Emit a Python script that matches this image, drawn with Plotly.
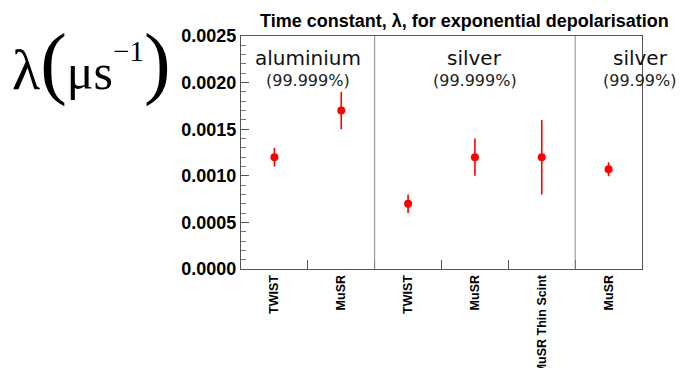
import plotly.graph_objects as go

# ---- data ----
categories = ["TWIST", "MuSR", "TWIST", "MuSR", "MuSR Thin Scint", "MuSR"]
lam_values = [0.00120, 0.00170, 0.00070, 0.00120, 0.00120, 0.00107]
lam_errors = [0.00010, 0.00020, 0.00010, 0.00020, 0.00040, 0.000075]
group_names = ["aluminium", "silver", "silver"]
group_purity = ["(99.999%)", "(99.999%)", "(99.99%)"]
group_centers = [0.5, 3.0, 5.47]
group_boundaries = [1.5, 4.5]
minor_x_ticks = [0.5, 1.5, 2.5, 3.5, 4.5]
y_ticks = [0.0, 0.0005, 0.0010, 0.0015, 0.0020, 0.0025]
y_label = ("<span style='font-size:58px'>λ</span>"
           "<span style='font-size:80px'>(</span>μs"
           "<span style='font-size:29px;baseline-shift:95%'>−1</span>"
           "<span style='font-size:80px'>)</span>")

W, H = 680, 368
L, R, T, B = 241, 38, 36, 99
PW, PH = W - L - R, H - T - B


def px(xp):
    return (xp - L) / PW


def py(yp):
    return (H - B - yp) / PH


xpos = list(range(len(categories)))

fig = go.Figure()
fig.add_trace(go.Scatter(
    x=xpos, y=lam_values, mode="markers",
    marker=dict(color="#ff0000", size=8),
    error_y=dict(type="data", array=lam_errors, visible=True,
                 color="#ff0000", thickness=1.6, width=0),
    showlegend=False, cliponaxis=False,
))

for b in group_boundaries:
    fig.add_shape(type="line", xref="x", yref="paper", x0=b, x1=b, y0=0, y1=1,
                  line=dict(color="#8a8a8a", width=1))

annotations = []
for name, pur, cx in zip(group_names, group_purity, group_centers):
    annotations.append(dict(x=cx, y=py(58), xref="x", yref="paper", text=name,
                            showarrow=False, xanchor="center", yanchor="middle",
                            font=dict(family="DejaVu Sans", size=20, color="#111")))
    annotations.append(dict(x=cx, y=py(80), xref="x", yref="paper", text=pur,
                            showarrow=False, xanchor="center", yanchor="middle",
                            font=dict(family="DejaVu Sans", size=16, color="#222")))

annotations.append(dict(x=px(10), y=py(62), xref="paper", yref="paper", text=y_label,
                        showarrow=False, xanchor="left", yanchor="middle",
                        font=dict(family="Liberation Serif", size=50, color="black")))

annotations.append(dict(x=px(464), y=py(21), xref="paper", yref="paper",
                        text="<b>Time constant, λ, for exponential depolarisation</b>",
                        showarrow=False, xanchor="center", yanchor="middle",
                        font=dict(family="Liberation Sans", size=18, color="black")))

fig.update_layout(
    width=W, height=H,
    margin=dict(l=L, r=R, t=T, b=B, pad=0, autoexpand=False),
    paper_bgcolor="white", plot_bgcolor="white",
    annotations=annotations,
    xaxis=dict(
        range=[-0.5, 5.5], tickmode="array", tickvals=xpos, ticktext=[f"<b>{c}</b>" for c in categories],
        tickangle=-90, ticks="", showgrid=False, zeroline=False, automargin=False,
        showline=True, linecolor="#555", linewidth=1, mirror=True,
        tickfont=dict(family="Liberation Sans", size=12.5, color="black"),
        minor=dict(tickmode="array", tickvals=minor_x_ticks, ticks="inside", ticklen=9,
                   tickcolor="#555", tickwidth=1, showgrid=False),
    ),
    yaxis=dict(
        range=[0, 0.0025], tickmode="array", tickvals=y_ticks,
        ticktext=[f"<b>{v:.4f}</b>" for v in y_ticks], automargin=False,
        ticks="inside", ticklen=8, tickcolor="#555", tickwidth=1,
        showgrid=False, zeroline=False,
        showline=True, linecolor="#555", linewidth=1, mirror=True,
        tickfont=dict(family="Liberation Sans", size=18, color="black"),
        minor=dict(dtick=0.0001, ticks="inside", ticklen=5, tickcolor="#777", tickwidth=1, showgrid=False),
    ),
)

fig.write_html("out.html")
